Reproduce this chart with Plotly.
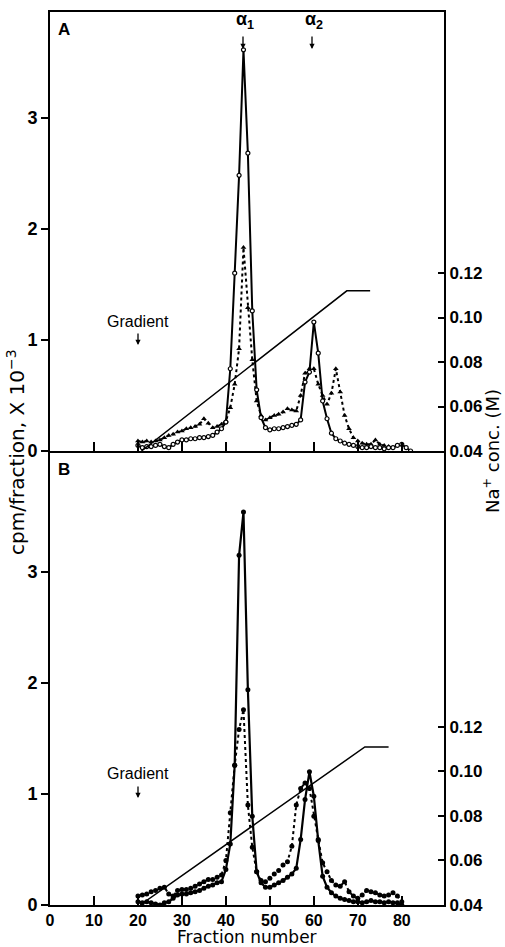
import plotly.graph_objects as go

# ---------------- data ----------------
fractions_A_solid = list(range(20, 83))
cpm_A_solid = [0.05, 0.03, 0.04, 0.04, 0.05, 0.06, 0.04, 0.03, 0.06, 0.08,
               0.10, 0.10, 0.11, 0.11, 0.12, 0.12, 0.13, 0.14, 0.17, 0.20,
               0.26, 0.74, 1.60, 2.48, 3.61, 2.68, 1.26, 0.55, 0.30, 0.21,
               0.19, 0.20, 0.20, 0.21, 0.22, 0.23, 0.24, 0.28, 0.62, 0.71,
               1.16, 0.88, 0.45, 0.29, 0.16, 0.11, 0.09, 0.07, 0.06, 0.05,
               0.04, 0.03, 0.03, 0.04, 0.03, 0.03, 0.02, 0.03, 0.03, 0.05,
               0.06, 0.03, 0.00]

fractions_A_dot = list(range(20, 78))
cpm_A_dot = [0.09, 0.08, 0.09, 0.08, 0.09, 0.10, 0.12, 0.14, 0.15, 0.17,
             0.18, 0.20, 0.21, 0.22, 0.24, 0.29, 0.25, 0.21, 0.22, 0.24,
             0.27, 0.39, 0.60, 0.92, 1.83, 1.29, 0.82, 0.45, 0.32, 0.28,
             0.30, 0.32, 0.33, 0.35, 0.38, 0.37, 0.36, 0.50, 0.70, 0.74,
             0.74, 0.60, 0.50, 0.42, 0.52, 0.74, 0.53, 0.32, 0.20, 0.12,
             0.09, 0.07, 0.06, 0.06, 0.10, 0.06, 0.05, 0.04]

fractions_B_solid = list(range(20, 81))
cpm_B_solid = [0.03, 0.02, 0.03, 0.02, 0.01, 0.00, 0.02, 0.03, 0.06, 0.09,
               0.10, 0.10, 0.11, 0.12, 0.13, 0.15, 0.17, 0.18, 0.20, 0.21,
               0.32, 0.55, 1.26, 3.15, 3.54, 1.94, 0.80, 0.30, 0.20, 0.16,
               0.16, 0.18, 0.20, 0.22, 0.25, 0.28, 0.33, 0.59, 0.95, 1.20,
               0.98, 0.58, 0.26, 0.16, 0.11, 0.08, 0.06, 0.05, 0.04, 0.03,
               0.03, 0.02, 0.03, 0.04, 0.03, 0.03, 0.02, 0.03, 0.02, 0.02,
               0.00]

fractions_B_dot = list(range(20, 81))
cpm_B_dot = [0.08, 0.09, 0.10, 0.12, 0.13, 0.15, 0.16, 0.10, 0.08, 0.13,
             0.14, 0.14, 0.15, 0.17, 0.19, 0.21, 0.23, 0.23, 0.25, 0.27,
             0.40, 0.83, 1.26, 1.58, 1.76, 0.90, 0.52, 0.30, 0.22, 0.21,
             0.24, 0.28, 0.31, 0.36, 0.39, 0.53, 0.90, 1.05, 1.10, 1.05,
             0.80, 0.59, 0.38, 0.30, 0.22, 0.18, 0.17, 0.21, 0.12, 0.08,
             0.06, 0.09, 0.13, 0.12, 0.11, 0.09, 0.08, 0.09, 0.11, 0.08,
             0.03]

gradient_A_frac = [20.8, 67.5, 72.8]
gradient_A_na = [0.04, 0.112, 0.112]
gradient_B_frac = [20.5, 71.6, 77.0]
gradient_B_na = [0.04, 0.111, 0.111]

x_ticks = [0, 10, 20, 30, 40, 50, 60, 70, 80, 90]
cpm_ticks = [0, 1, 2, 3]
na_ticks = [0.04, 0.06, 0.08, 0.10, 0.12]
na_ticktext = ["0.04", "0.06", "0.08", "0.10", "0.12"]

# ---------------- layout helpers ----------------
W, H = 505, 947
def px(x):
    return x / W
def py(y):
    return 1 - y / H

FONT = "Liberation Sans, Arial, Helvetica, sans-serif"
TFONT = "DejaVu Sans, Liberation Sans, sans-serif"
BOLD = dict(family=FONT, size=18, color="black", weight="bold")
BOLD_X = dict(family=FONT, size=16, color="black", weight="bold")
BOLD_R = dict(family=FONT, size=17, color="black", weight="bold")

fig = go.Figure()

# gradient lines (drawn first, behind data)
fig.add_trace(go.Scatter(x=gradient_A_frac, y=gradient_A_na, mode="lines",
                         line=dict(color="black", width=1.5),
                         xaxis="x", yaxis="y2", showlegend=False))
fig.add_trace(go.Scatter(x=gradient_B_frac, y=gradient_B_na, mode="lines",
                         line=dict(color="black", width=1.5),
                         xaxis="x2", yaxis="y4", showlegend=False))

# panel A
fig.add_trace(go.Scatter(x=fractions_A_dot, y=cpm_A_dot, mode="lines+markers",
                         line=dict(color="black", width=2, dash="dot"),
                         marker=dict(symbol="triangle-up", size=5, color="black"),
                         xaxis="x", yaxis="y", showlegend=False))
fig.add_trace(go.Scatter(x=fractions_A_solid, y=cpm_A_solid, mode="lines+markers",
                         line=dict(color="black", width=2),
                         marker=dict(symbol="circle", size=4, color="white",
                                     line=dict(color="black", width=1.2)),
                         xaxis="x", yaxis="y", showlegend=False))

# panel B
fig.add_trace(go.Scatter(x=fractions_B_dot, y=cpm_B_dot, mode="lines+markers",
                         line=dict(color="black", width=2, dash="dot"),
                         marker=dict(symbol="circle", size=5, color="black"),
                         xaxis="x2", yaxis="y3", showlegend=False))
fig.add_trace(go.Scatter(x=fractions_B_solid, y=cpm_B_solid, mode="lines+markers",
                         line=dict(color="black", width=2.2),
                         marker=dict(symbol="circle", size=5, color="black"),
                         xaxis="x2", yaxis="y3", showlegend=False))

xdom = [px(50), px(444)]
xrange_ = [0, 89.6]

common_x = dict(domain=xdom, range=xrange_, showline=True, linecolor="black",
                linewidth=2, ticks="inside", ticklen=9, tickwidth=1.5,
                tickcolor="black", showgrid=False, zeroline=False, automargin=False)

common_yl = dict(showline=True, linecolor="black", linewidth=2,
                 ticks="outside", ticklen=7, tickwidth=2, tickcolor="black",
                 tickvals=cpm_ticks, tickfont=BOLD, showgrid=False,
                 zeroline=False, automargin=False)
common_yr = dict(side="right", showline=True, linecolor="black", linewidth=2,
                 ticks="inside", ticklen=6, tickwidth=1.5, tickcolor="black",
                 tickvals=na_ticks, ticktext=na_ticktext, tickfont=BOLD_R,
                 showgrid=False, zeroline=False, automargin=False)

fig.update_layout(
    width=W, height=H,
    margin=dict(l=0, r=0, t=0, b=0, autoexpand=False),
    paper_bgcolor="white", plot_bgcolor="white",
    showlegend=False,
    xaxis=dict(**common_x, anchor="y", mirror=True,
               tickvals=x_ticks[1:-1], showticklabels=False),
    yaxis=dict(**common_yl, domain=[py(451), py(12)], anchor="x", range=[0, 3.95]),
    yaxis2=dict(**common_yr, overlaying="y", anchor="x", range=[0.04, 0.2373]),
    xaxis2=dict(**common_x, anchor="y3", tickvals=x_ticks,
                ticktext=[str(v) for v in x_ticks], tickfont=BOLD_X),
    yaxis3=dict(**common_yl, domain=[py(905), py(451)], anchor="x2", range=[0, 4.09]),
    yaxis4=dict(**common_yr, overlaying="y3", anchor="x2", range=[0.04, 0.244]),
)

def ann(text, x, y, size=16, bold=True, angle=0, family=FONT):
    fig.add_annotation(text=text, x=px(x), y=py(y), xref="paper", yref="paper",
                       showarrow=False, textangle=angle, xanchor="center", yanchor="middle",
                       font=dict(family=family, size=size, color="black",
                                 weight="bold" if bold else "normal"))

def arrow(x, y_top, y_tip):
    fig.add_annotation(x=px(x), y=py(y_tip), xref="paper", yref="paper",
                       ax=0, ay=-(y_tip - y_top), text="", showarrow=True,
                       arrowhead=2, arrowsize=0.8, arrowwidth=1.3, arrowcolor="black")

ann("A", 64, 30, size=17)
ann("B", 64, 469, size=17)
ann("α<sub>1</sub>", 245, 20, size=18)
arrow(243, 35, 49)
ann("α<sub>2</sub>", 314, 20, size=18)
arrow(312, 35, 49)
ann("Gradient", 138, 322, size=16, bold=False)
arrow(138, 332, 345)
ann("Gradient", 138, 773, size=16, bold=False)
arrow(138, 785, 798)

ann("cpm/fraction, X 10<sup>−3</sup>", 16, 452, size=20, bold=False, angle=-90, family=TFONT)
ann("Na<sup>+</sup> conc. (M)", 491, 451, size=18, bold=False, angle=-90, family=TFONT)
ann("Fraction number", 247, 937, size=17, bold=False, family=TFONT)

fig.write_html("out.html",
               config={"displayModeBar": False},
               post_script="document.body.style.margin='0px';"
                           "document.body.style.overflow='hidden';")
